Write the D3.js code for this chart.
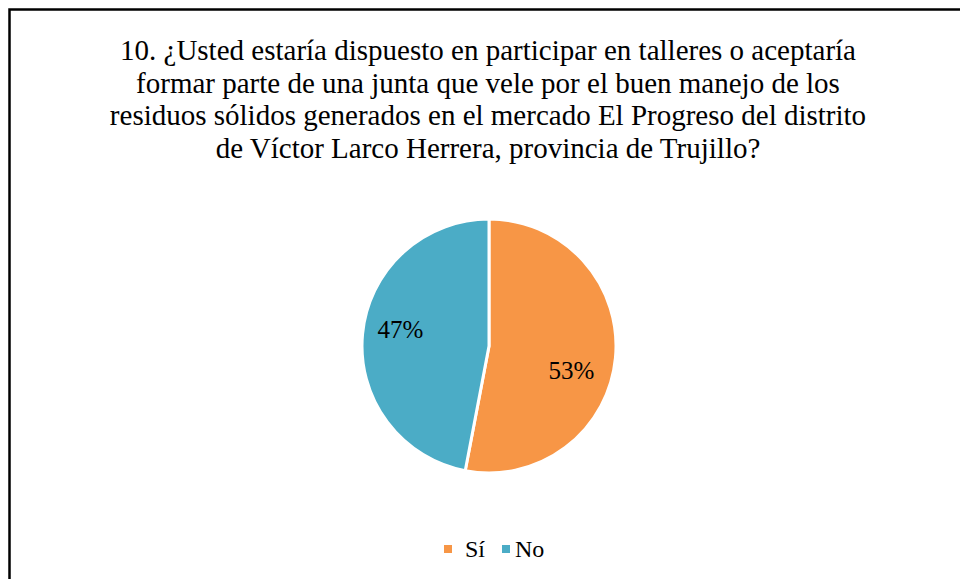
<!DOCTYPE html>
<html>
<head>
<meta charset="utf-8">
<script src="https://cdn.jsdelivr.net/npm/d3@7"></script>
<style>
  body { margin: 0; background: #fff; }
  svg { display: block; }
  text { font-family: "Liberation Serif", "Times New Roman", serif; }
</style>
</head>
<body>
<svg id="chart" width="960" height="579"></svg>
<script>
// chart data
const categories = ["Sí", "No"];
const values = [53, 47];
const colors = ["#F79646", "#4BACC6"];
const titleLines = [
  "10. ¿Usted estaría dispuesto en participar en talleres o aceptaría",
  "formar parte de una junta que vele por el buen manejo de los",
  "residuos sólidos generados en el mercado El Progreso del distrito",
  "de Víctor Larco Herrera, provincia de Trujillo?"
];

const svg = d3.select("#chart");

// chart frame (right and bottom edges fall outside the picture)
svg.append("rect")
  .attr("x", 9.5).attr("y", 9.5)
  .attr("width", 960).attr("height", 600)
  .attr("fill", "#fff")
  .attr("stroke", "#000")
  .attr("stroke-width", 2.5);

// title
svg.append("g")
  .selectAll("text")
  .data(titleLines)
  .enter()
  .append("text")
  .attr("x", 488)
  .attr("y", (d, i) => 60 + i * 32.5)
  .attr("text-anchor", "middle")
  .style("font-size", "29px")
  .attr("fill", "#000")
  .text(d => d);

// pie
const cx = 489, cy = 346, radius = 127;
const pie = d3.pie().sort(null).value(d => d.value);
const arc = d3.arc().innerRadius(0).outerRadius(radius);
const labelArc = d3.arc().innerRadius(radius * 0.7).outerRadius(radius * 0.7);

const data = categories.map((c, i) => ({ name: c, value: values[i], color: colors[i] }));
const g = svg.append("g").attr("transform", `translate(${cx},${cy})`);

const slices = g.selectAll(".slice")
  .data(pie(data))
  .enter()
  .append("g")
  .attr("class", "slice");

slices.append("path")
  .attr("d", arc)
  .attr("fill", d => d.data.color)
  .attr("stroke", "#fff")
  .attr("stroke-width", 3);

// label nudges, like the chart's best-fit placement
const labelDx = [-6, 0];
const labelDy = [16, -8];
slices.append("text")
  .attr("transform", d => {
    const [x, y] = labelArc.centroid(d);
    return `translate(${x + labelDx[d.index]},${y + labelDy[d.index]})`;
  })
  .attr("text-anchor", "middle")
  .attr("dy", "0.35em")
  .style("font-size", "25px")
  .attr("fill", "#000")
  .text(d => d.data.value + "%");

// legend
const legendX = [444, 502];
const legendTextDx = [21, 13];
const legend = svg.append("g")
  .selectAll(".legend")
  .data(data)
  .enter()
  .append("g")
  .attr("class", "legend")
  .attr("transform", (d, i) => `translate(${legendX[i]},549)`);

legend.append("rect")
  .attr("x", 0).attr("y", -4)
  .attr("width", 8).attr("height", 8)
  .attr("fill", d => d.color);

legend.append("text")
  .attr("x", (d, i) => legendTextDx[i])
  .attr("y", 0)
  .attr("dy", "0.35em")
  .style("font-size", "24px")
  .attr("fill", "#000")
  .text(d => d.name);
</script>
</body>
</html>
